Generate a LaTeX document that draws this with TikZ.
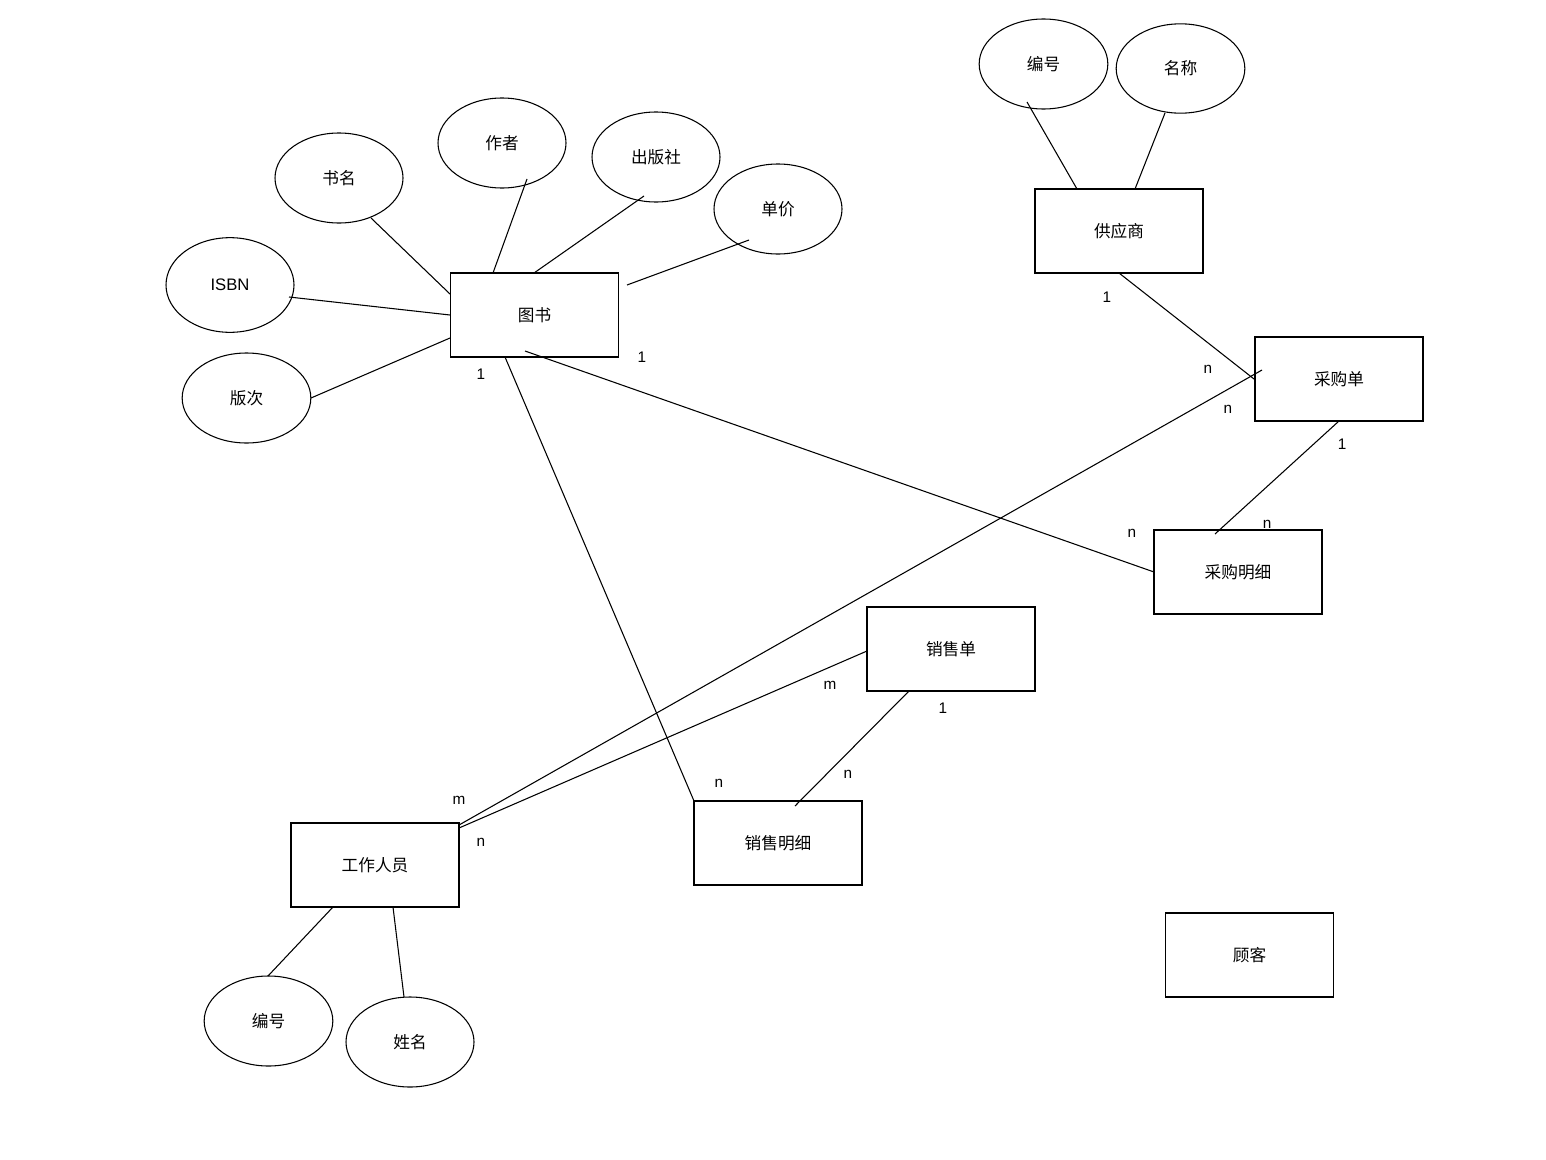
\documentclass[tikz,border=0pt]{standalone}
\usepackage{fontspec}
\setmainfont{Liberation Sans}
\newfontfamily\cjk{Noto Sans CJK SC}
\usetikzlibrary{shapes.geometric}
\begin{document}
\begin{tikzpicture}[x=0.75pt,y=-0.75pt,
  ent/.style={draw,line width=0.8pt,minimum width=126pt,minimum height=63pt,inner sep=0pt,font=\cjk\fontsize{12.5}{14}\selectfont},
  attr/.style={draw,ellipse,line width=0.8pt,inner sep=0pt,font=\cjk\fontsize{12.5}{14}\selectfont},
  lnk/.style={line width=0.8pt},
  card/.style={font=\fontsize{11.5}{13}\selectfont,inner sep=0pt}]
\useasboundingbox (0,0) rectangle (1546,1160);
% entities
\node[ent] (book) at (534.5,315) {图书};
\node[ent] (supp) at (1119,231) {供应商};
\node[ent] (po) at (1339,379) {采购单};
\node[ent] (pod) at (1238,572) {采购明细};
\node[ent] (so) at (951,649) {销售单};
\node[ent] (sod) at (778,843) {销售明细};
\node[ent] (staff) at (375,865) {工作人员};
\node[ent] (cust) at (1249.5,955) {顾客};
% attributes
\node[attr,minimum width=96pt,minimum height=67.5pt] (bname) at (339,178) {书名};
\node[attr,minimum width=96pt,minimum height=67.5pt] (bauth) at (502,143) {作者};
\node[attr,minimum width=96pt,minimum height=67.5pt] (bpub) at (656,157) {出版社};
\node[attr,minimum width=96pt,minimum height=67.5pt] (bprice) at (778,209) {单价};
\node[attr,minimum width=96pt,minimum height=71pt,font=\fontsize{12.5}{14}\selectfont] (bisbn) at (230,285) {ISBN};
\node[attr,minimum width=96.5pt,minimum height=67.5pt] (bed) at (246.5,398) {版次};
\node[attr,minimum width=96.5pt,minimum height=67.5pt] (sno) at (1043.5,64) {编号};
\node[attr,minimum width=96.5pt,minimum height=67pt] (sname) at (1180.5,68.5) {名称};
\node[attr,minimum width=96.5pt,minimum height=67.5pt] (eno) at (268.5,1021) {编号};
\node[attr,minimum width=96pt,minimum height=67.5pt] (ename) at (410,1042) {姓名};
% free ends of connectors
\coordinate (c1) at (371,218); \coordinate (c1b) at (450,294);
\coordinate (c2) at (527,179); \coordinate (c2b) at (493,273);
\coordinate (c3) at (644,196); \coordinate (c3b) at (534,273);
\coordinate (c4) at (749,240); \coordinate (c4b) at (627,285);
\coordinate (c5) at (289,297); \coordinate (c5b) at (450,315);
\coordinate (c6) at (311,398); \coordinate (c6b) at (450,338);
\coordinate (c7) at (1027,102); \coordinate (c7b) at (1077,189);
\coordinate (c8) at (1165,113); \coordinate (c8b) at (1135,189);
\coordinate (c9) at (1119,273); \coordinate (c9b) at (1254,379);
\coordinate (c10) at (1262,370); \coordinate (c10b) at (459,825);
\coordinate (c11) at (1339,421); \coordinate (c11b) at (1215,534);
\coordinate (c12) at (525,351); \coordinate (c12b) at (1154,572);
\coordinate (c13) at (505,357); \coordinate (c13b) at (694,801);
\coordinate (c14) at (867,651); \coordinate (c14b) at (459,828);
\coordinate (c15) at (909,691); \coordinate (c15b) at (795,806);
\coordinate (c16) at (333,907); \coordinate (c16b) at (268,976);
\coordinate (c17) at (393,907); \coordinate (c17b) at (404,997);
\foreach \i in {1,...,17} {\draw[lnk] (c\i) -- (c\i b);}
% cardinalities
\node[card] (k1) at (481,374) {1};
\node[card] (k2) at (642,357) {1};
\node[card] (k3) at (1107,297) {1};
\node[card] (k4) at (1208,369) {n};
\node[card] (k5) at (1228,409) {n};
\node[card] (k6) at (1342,444) {1};
\node[card] (k7) at (1132,533) {n};
\node[card] (k8) at (1267,524) {n};
\node[card] (k9) at (830,685) {m};
\node[card] (k10) at (943,708) {1};
\node[card] (k11) at (848,774) {n};
\node[card] (k12) at (719,783) {n};
\node[card] (k13) at (459,800) {m};
\node[card] (k14) at (481,842) {n};
\end{tikzpicture}
\end{document}
